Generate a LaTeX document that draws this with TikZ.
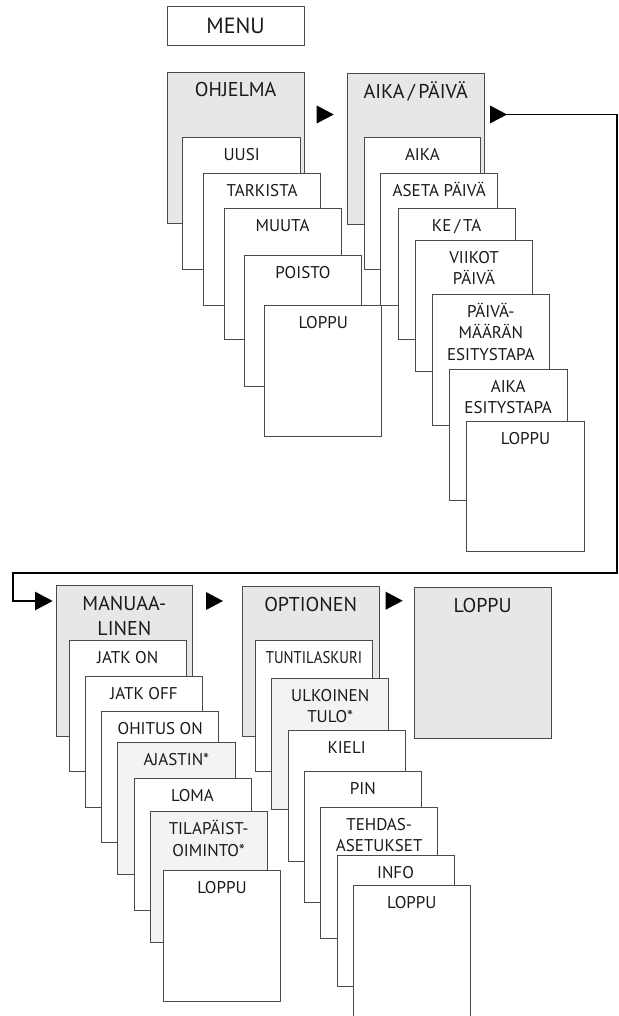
\documentclass[tikz,border=0pt]{standalone}
\usepackage{fontspec}
\setmainfont{PT Sans}
\usepackage{graphicx}
\usetikzlibrary{arrows.meta}
\definecolor{hd}{HTML}{E6E7E8}
\definecolor{lt}{HTML}{F3F3F3}
\definecolor{bl}{HTML}{4A4A4A}
\definecolor{tx}{HTML}{1A1A1A}
\newcommand\ml[1]{\begin{tabular}[t]{@{}c@{}}#1\end{tabular}}
% name, box style, x1, y1, x2, y2, text style, text
\newcommand\mybox[8]{%
  \node[#2, anchor=north west, minimum width={(#5-#3)*1pt}, minimum height={(#6-#4)*1pt}] (#1) at (#3,#4) {};
  \node[#7] (#1-t) at (#1.north) {#8};}
\newcommand\tri[2]{\fill[black] (#1,#2-9) -- (#1+17,#2) -- (#1,#2+9) -- cycle;}
\tikzset{
  bx/.style={draw=bl, line width=0.9pt, inner sep=0pt, outer sep=0pt},
  whitebox/.style={bx, fill=white},
  headbox/.style={bx, fill=hd},
  lightbox/.style={bx, fill=lt},
  subtxt/.style={anchor=base, yshift=-23pt, inner sep=0pt, text=tx, font=\fontsize{17}{21.5}\selectfont},
  headtxt/.style={anchor=base, yshift=-25pt, inner sep=0pt, text=tx, font=\fontsize{20}{25}\selectfont},
  conn/.style={line width=1.9pt, black},
}
\begin{document}
\begin{tikzpicture}[x=1pt,y=-1pt]
\useasboundingbox (0,0) rectangle (618,1016);
% MENU
\node[whitebox, anchor=north west, minimum width=136.7pt, minimum height=39pt] (menu) at (167.3,6) {};
\node[anchor=base, inner sep=0pt, text=tx, font=\fontsize{22}{26}\selectfont] (menu-t) at ([yshift=-27.3pt]menu.north) {MENU};
% Column 1
\mybox{ohj}{headbox}{167.3}{72}{304}{223.3}{headtxt}{OHJELMA}
\mybox{uusi}{whitebox}{182.7}{137.7}{300.7}{269}{subtxt}{UUSI}
\mybox{tark}{whitebox}{203.3}{173.3}{320.7}{305}{subtxt}{TARKISTA}
\mybox{muut}{whitebox}{224}{208.3}{341}{339.3}{subtxt}{MUUTA}
\mybox{pois}{whitebox}{244.7}{255}{361.3}{386}{subtxt}{POISTO}
\mybox{lopa}{whitebox}{264.7}{305.3}{381.7}{436.7}{subtxt}{LOPPU}
\tri{316.7}{114.5}
% Column 2
\mybox{aikap}{headbox}{347.3}{73.3}{484.3}{224}{headtxt}{AIKA\,/\,PÄIVÄ}
\mybox{aika}{whitebox}{364}{137.7}{480.7}{269}{subtxt}{AIKA}
\mybox{aseta}{whitebox}{380.7}{173.3}{497.7}{305}{subtxt}{ASETA PÄIVÄ}
\mybox{keta}{whitebox}{398.3}{208.3}{515}{339.3}{subtxt}{KE\,/\,TA}
\mybox{viik}{whitebox}{415.7}{240}{532.3}{371.7}{subtxt}{\ml{VIIKOT\\PÄIVÄ}}
\mybox{pvm}{whitebox}{432.3}{294.3}{549.3}{425.7}{subtxt}{\ml{PÄIVÄ-\\MÄÄRÄN\\ESITYSTAPA}}
\mybox{aest}{whitebox}{449.3}{369.3}{567}{500}{subtxt}{\ml{AIKA\\ESITYSTAPA}}
\mybox{lopb}{whitebox}{466.7}{421}{584.3}{551.7}{subtxt}{LOPPU}
% big connector
\tri{490}{114.5}
\coordinate (cstart) at (506,114.5);
\coordinate (cend) at (52.7,601);
\draw[conn, -{Triangle[length=17.7pt,width=18.3pt]}] (cstart) -- (616.7,114.5) |- (13.3,573.3) |- (cend);
% Column 3
\mybox{man}{headbox}{56}{585.7}{192.7}{736.7}{headtxt}{\ml{MANUAA-\\LINEN}}
\mybox{jon}{whitebox}{69.3}{640.7}{186}{771.7}{subtxt}{JATK ON}
\mybox{joff}{whitebox}{85.7}{676.7}{202.3}{807.7}{subtxt}{JATK OFF}
\mybox{ohon}{whitebox}{101.7}{711.7}{218.7}{842.7}{subtxt}{OHITUS ON}
\mybox{ajas}{lightbox}{117.7}{742.7}{235}{874}{subtxt}{AJASTIN*}
\mybox{loma}{whitebox}{134}{778.7}{251}{910}{subtxt}{LOMA}
\mybox{tila}{lightbox}{150}{811.7}{267.3}{942.7}{subtxt}{\ml{TILAPÄIST-\\OIMINTO*}}
\mybox{lopc}{whitebox}{163.3}{870}{280.7}{1001.7}{subtxt}{LOPPU}
\tri{206}{601}
% Column 4
\mybox{opt}{headbox}{242.3}{586}{379}{736.7}{headtxt}{OPTIONEN}
\mybox{tunt}{whitebox}{255.7}{640.7}{372.3}{771}{subtxt}{\scalebox{0.87}[1]{TUNTILASKURI}}
\mybox{ulko}{lightbox}{271.7}{678.3}{388.7}{809.3}{subtxt}{\ml{ULKOINEN\\TULO*}}
\mybox{kiel}{whitebox}{288.3}{730.7}{405}{861.7}{subtxt}{KIELI}
\mybox{pin}{whitebox}{304.3}{771}{421.3}{902.3}{subtxt}{PIN}
\mybox{tehd}{whitebox}{320.7}{807}{437.7}{938.3}{subtxt}{\ml{TEHDAS-\\ASETUKSET}}
\mybox{info}{whitebox}{337}{855}{454}{986}{subtxt}{INFO}
\mybox{lopd}{whitebox}{353.3}{885.7}{470.3}{1017.5}{subtxt}{LOPPU}
\tri{385.7}{600.7}
% final LOPPU
\mybox{lope}{headbox}{414.3}{587.7}{551}{738.3}{headtxt}{LOPPU}
\end{tikzpicture}
\end{document}
